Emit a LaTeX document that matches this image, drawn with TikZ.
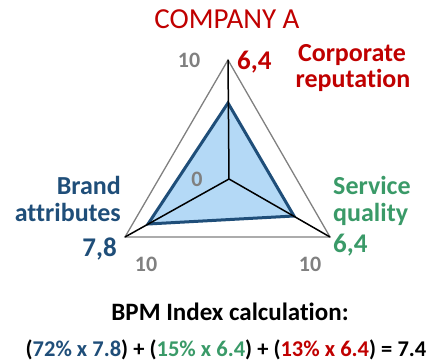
\documentclass[tikz,border=0pt]{standalone}
\usepackage{fontspec}
\setmainfont[Ligatures={NoCommon}]{Carlito}
\definecolor{cred}{HTML}{C00000}
\definecolor{cblue}{HTML}{1F4E79}
\definecolor{cgreen}{HTML}{3A9A68}
\definecolor{cgray}{HTML}{808080}
\definecolor{cfill}{HTML}{B4D9F6}
\tikzset{
  lab/.style={inner sep=0pt, font=\fontsize{26}{26}\selectfont\bfseries},
  val/.style={inner sep=0pt, font=\fontsize{27}{27}\selectfont\bfseries},
  tick/.style={inner sep=0pt, text=cgray, font=\fontsize{22}{22}\selectfont\bfseries},
}
\begin{document}
\begin{tikzpicture}[x=1pt,y=-1pt]
\useasboundingbox (0,0) rectangle (431,363);
% geometry
\coordinate (c) at (229,179);
\coordinate (t) at (228,60);
\coordinate (l) at (125,237);
\coordinate (r) at (330,237);
\coordinate (vt) at (228,103);
\coordinate (vl) at (148,224);
\coordinate (vr) at (294,216);
\draw[cgray, line width=1.3pt] (t) -- (l) -- (r) -- cycle;
\filldraw[fill=cfill, draw=cblue, line width=3pt, line join=miter] (vt) -- (vl) -- (vr) -- cycle;
\draw[black, line width=1.5pt] (c) -- (t) (c) -- (l) (c) -- (r);
% texts
\node[inner sep=0pt, anchor=base, text=cred, font=\fontsize{29}{29}\selectfont] (title) at (227,29) {COMPANY A};
\node[tick, anchor=base] (t10) at (189,68) {10};
\node[val, anchor=base west, text=cred] (vtop) at (237,70) {6,4};
\node[lab, anchor=base, text=cred] (corp1) at (352,62) {Corporate};
\node[lab, anchor=base, text=cred] (corp2) at (353,88) {reputation};
\node[lab, anchor=base east, text=cblue] (brand1) at (121,195) {Brand};
\node[lab, anchor=base east, text=cblue] (brand2) at (121,222) {attributes};
\node[val, anchor=base east, text=cblue] (vleft) at (117,257) {7,8};
\node[lab, anchor=base west, text=cgreen] (serv1) at (333,195) {Service};
\node[lab, anchor=base west, text=cgreen] (serv2) at (333,222) {quality};
\node[val, anchor=base west, text=cgreen] (vright) at (333,253) {6,4};
\node[tick, anchor=base] (l10) at (146,272) {10};
\node[tick, anchor=base] (r10) at (310,272) {10};
\node[tick, anchor=base] (zero) at (197,187) {0};
\node[inner sep=0pt, anchor=base, font=\fontsize{25}{25}\selectfont\bfseries] (bpm) at (230,320) {BPM Index calculation:};
\node[inner sep=0pt, anchor=base, font=\fontsize{22.5}{23}\selectfont\bfseries] (eq) at (226,356) {(\textcolor{cblue}{72\% x 7.8}) + (\textcolor{cgreen}{15\% x 6.4}) + (\textcolor{cred}{13\% x 6.4}) = 7.4};
\end{tikzpicture}
\end{document}
